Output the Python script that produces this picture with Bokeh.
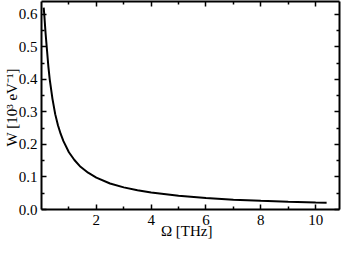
from bokeh.plotting import figure
from bokeh.models import LinearAxis, FixedTicker, Range1d, NumeralTickFormatter
from bokeh.embed import file_html
from bokeh.resources import INLINE

# Data
omega = [0.08, 0.1, 0.15, 0.2, 0.25, 0.3, 0.4, 0.5, 0.6, 0.7, 0.8, 1.0, 1.2, 1.4,
         1.7, 2.0, 2.5, 3.0, 3.5, 4.0, 5.0, 6.0, 7.0, 8.0, 9.0, 10.0, 10.4]
w_vals = [0.62, 0.60, 0.54, 0.49, 0.44, 0.40, 0.34, 0.293, 0.259, 0.232, 0.210,
          0.176, 0.152, 0.133, 0.113, 0.098, 0.080, 0.068, 0.059, 0.052, 0.042,
          0.0352, 0.0303, 0.0267, 0.0238, 0.0214, 0.0207]
x_ticks = [2, 4, 6, 8, 10]
x_minor = [1, 3, 5, 7, 9]
y_ticks = [0.0, 0.1, 0.2, 0.3, 0.4, 0.5, 0.6]
y_minor = [0.05, 0.15, 0.25, 0.35, 0.45, 0.55]

FONT = "Liberation Serif"

p = figure(width=345, height=245, output_backend="svg", toolbar_location=None,
           x_range=Range1d(0, 10.87), y_range=Range1d(0, 0.639),
           x_axis_location=None, y_axis_location=None,
           min_border_left=36, min_border_right=6, min_border_top=1, min_border_bottom=36)
p.grid.visible = False
p.outline_line_color = None
p.background_fill_color = "white"
p.border_fill_color = "white"

p.line(omega, w_vals, line_color="black", line_width=2)

def style_axis(ax, labels=True):
    ax.axis_line_width = 2
    ax.axis_line_color = "black"
    ax.major_tick_in = 5
    ax.major_tick_out = 0
    ax.minor_tick_in = 3
    ax.minor_tick_out = 0
    ax.major_tick_line_width = 1.5
    ax.minor_tick_line_width = 1.5
    ax.major_label_text_font = FONT
    ax.major_label_text_font_size = "15px"
    ax.major_label_text_color = "black"
    ax.axis_label_text_font = FONT
    ax.axis_label_text_font_size = "15px"
    ax.axis_label_text_font_style = "normal"
    ax.axis_label_text_color = "black"
    if not labels:
        ax.major_label_overrides = {t: "" for t in ax.ticker.ticks}
        ax.major_label_standoff = 0

xt = FixedTicker(ticks=x_ticks, minor_ticks=x_minor)
yt = FixedTicker(ticks=y_ticks, minor_ticks=y_minor)

xb = LinearAxis(ticker=xt, axis_label="Ω   [THz]")
style_axis(xb)
xb.major_label_standoff = 5
xb.axis_label_standoff = -5
p.add_layout(xb, "below")

xa = LinearAxis(ticker=FixedTicker(ticks=x_ticks, minor_ticks=x_minor))
style_axis(xa, labels=False)
p.add_layout(xa, "above")

yl = LinearAxis(ticker=yt, axis_label="W  [10³ eV⁻¹]",
                formatter=NumeralTickFormatter(format="0.0"))
style_axis(yl)
yl.major_label_standoff = 4
yl.axis_label_standoff = -4
p.add_layout(yl, "left")

yr = LinearAxis(ticker=FixedTicker(ticks=y_ticks, minor_ticks=y_minor))
style_axis(yr, labels=False)
p.add_layout(yr, "right")

open("out.html", "w").write(file_html(p, INLINE))
